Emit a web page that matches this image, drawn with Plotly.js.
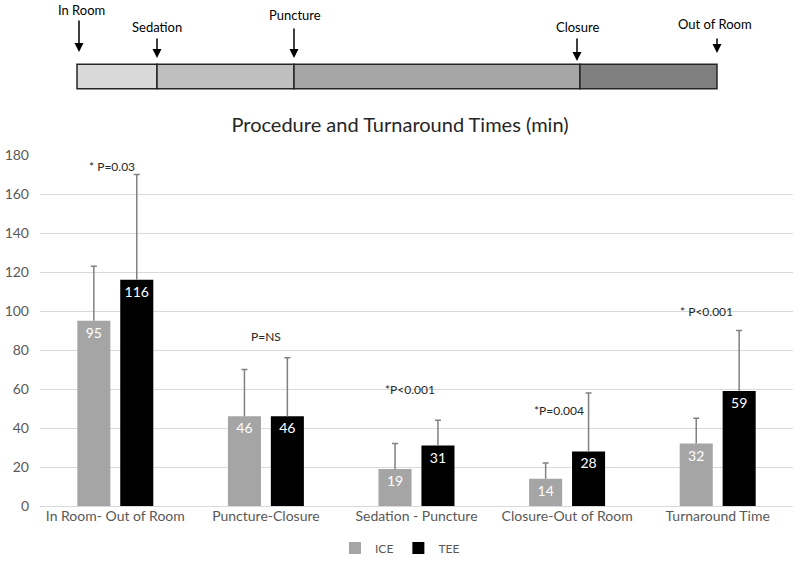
<!DOCTYPE html>
<html>
<head>
<meta charset="utf-8">
<script src="https://cdn.plot.ly/plotly-3.0.1.min.js"></script>
<style>html,body{margin:0;padding:0;background:#fff;}#chart{width:800px;height:563px;}</style>
</head>
<body>
<div id="chart"></div>
<script>
// ---- data ----
var categories = ["In Room- Out of Room", "Puncture-Closure", "Sedation - Puncture", "Closure-Out of Room", "Turnaround Time"];
var iceValues = [95, 46, 19, 14, 32];
var teeValues = [116, 46, 31, 28, 59];
var iceErrors = [28, 24, 13, 8, 13];
var teeErrors = [54, 30, 13, 30, 31];
var pLabels = ["* P=0.03", "P=NS", "*P<0.001", "*P=0.004", "* P<0.001"];
var pLabelY = [174, 87, 60, 49, 99.5];

// timeline (schematic, relative units)
var eventNames = ["In Room", "Sedation", "Puncture", "Closure", "Out of Room"];
var segmentLengths = [80, 137, 286, 137];
var segmentColors = ["#d9d9d9", "#bfbfbf", "#a6a6a6", "#808080"];

// ---- derived ----
var segmentStarts = [];
var acc = 0;
for (var i = 0; i < segmentLengths.length; i++) { segmentStarts.push(acc); acc += segmentLengths[i]; }
var eventPos = segmentStarts.concat([acc]);
function zeros(a) { return a.map(function(){ return 0; }); }
function addArr(a, b) { return a.map(function(v, i){ return v + b[i]; }); }

var FONT = "Lato, 'Open Sans', sans-serif";
var ERRCOL = "#808080";

var traces = [
  {
    type: "bar", name: "ICE", x: categories, y: iceValues, offsetgroup: "ice",
    marker: {color: "#a5a5a5"},
    text: iceValues.map(String), textposition: "inside", insidetextanchor: "end",
    textfont: {color: "#ffffff", size: 14, family: FONT},
    error_y: {type: "data", symmetric: false, array: iceErrors, arrayminus: zeros(iceValues),
              color: ERRCOL, thickness: 1.5, width: 0},
    hoverinfo: "skip", cliponaxis: false
  },
  {
    type: "bar", name: "TEE", x: categories, y: teeValues, offsetgroup: "tee",
    marker: {color: "#000000"},
    text: teeValues.map(String), textposition: "inside", insidetextanchor: "end",
    textfont: {color: "#ffffff", size: 14, family: FONT},
    error_y: {type: "data", symmetric: false, array: teeErrors, arrayminus: zeros(teeValues),
              color: ERRCOL, thickness: 1.5, width: 0},
    hoverinfo: "skip", cliponaxis: false
  },
  // invisible bars carrying only the top caps of the error bars
  {
    type: "bar", name: "ICE cap", x: categories, y: addArr(iceValues, iceErrors), offsetgroup: "ice",
    marker: {color: "rgba(0,0,0,0)"}, showlegend: false, hoverinfo: "skip", cliponaxis: false,
    error_y: {type: "data", symmetric: false, array: zeros(iceValues), arrayminus: zeros(iceValues),
              color: ERRCOL, thickness: 1.5, width: 3}
  },
  {
    type: "bar", name: "TEE cap", x: categories, y: addArr(teeValues, teeErrors), offsetgroup: "tee",
    marker: {color: "rgba(0,0,0,0)"}, showlegend: false, hoverinfo: "skip", cliponaxis: false,
    error_y: {type: "data", symmetric: false, array: zeros(teeValues), arrayminus: zeros(teeValues),
              color: ERRCOL, thickness: 1.5, width: 3}
  },
  {
    type: "bar", orientation: "h", xaxis: "x2", yaxis: "y2",
    x: segmentLengths, base: segmentStarts, y: segmentLengths.map(function(){return 23.5;}),
    width: 24.5,
    marker: {color: segmentColors, line: {color: "#262626", width: 1.5}},
    showlegend: false, hoverinfo: "skip"
  }
];

var annotations = [];
// p-value annotations
var pShift = [-3, 0, -7, -8, -11];
for (var k = 0; k < categories.length; k++) {
  annotations.push({x: categories[k], y: pLabelY[k], xref: "x", yref: "y", text: pLabels[k], showarrow: false,
    xshift: pShift[k], font: {size: 12, color: "#262626", family: FONT}, xanchor: "center", yanchor: "middle"});
}
// timeline arrows and labels
var arrowTipY = [48, 42, 42, 39, 47];
var arrowLen = [33, 21, 31, 24, 16];
var arrowShift = [2, 0, 0, -3, 0];
var labelY = [90, 73, 85, 73, 76];
var labelShift = [4, 0, 1, -3, -2];
for (var e = 0; e < eventNames.length; e++) {
  annotations.push({x: eventPos[e], y: arrowTipY[e], xref: "x2", yref: "y2", text: "", showarrow: true,
    ax: 0, ay: -arrowLen[e], xshift: arrowShift[e], arrowhead: 2, arrowsize: 1.2, arrowwidth: 1.5, arrowcolor: "#000000"});
  annotations.push({x: eventPos[e], y: labelY[e], xref: "x2", yref: "y2", text: eventNames[e], showarrow: false,
    xshift: labelShift[e], font: {size: 13, color: "#000000", family: FONT}, xanchor: "center", yanchor: "middle"});
}

var layout = {
  width: 800, height: 563,
  margin: {l: 40, r: 7, t: 0, b: 57},
  paper_bgcolor: "#ffffff", plot_bgcolor: "#ffffff",
  font: {family: FONT, color: "#595959"},
  title: {text: "Procedure and Turnaround Times (min)", x: 0.5, xref: "container", xanchor: "center",
          y: 1 - 125/563, yref: "container", yanchor: "middle",
          font: {size: 20, color: "#262626", family: FONT}},
  barmode: "group", bargap: 0.43, bargroupgap: 0.23,
  xaxis: {type: "category", domain: [0, 1], anchor: "y", showgrid: false, showline: false, ticks: "",
          tickfont: {size: 14, color: "#595959", family: FONT}},
  yaxis: {domain: [0, 351/506], anchor: "x", range: [0, 180], dtick: 20, showgrid: true, gridcolor: "#d9d9d9", gridwidth: 1,
          zeroline: true, zerolinecolor: "#d9d9d9", zerolinewidth: 1, showline: false, ticks: "",
          ticklabelstandoff: 10, tickfont: {size: 14, color: "#595959", family: FONT}},
  xaxis2: {domain: [0, 1], anchor: "y2", range: [-37, 716], visible: false, fixedrange: true},
  yaxis2: {domain: [406/506, 1], anchor: "x2", range: [0, 100], visible: false, fixedrange: true},
  legend: {orientation: "h", xref: "container", yref: "container", x: 0.5, y: 1 - 548/563, xanchor: "center", yanchor: "middle",
           font: {size: 12, color: "#595959", family: FONT}, itemwidth: 30, traceorder: "normal"},
  annotations: annotations,
  showlegend: true
};

Plotly.newPlot("chart", traces, layout, {displayModeBar: false, staticPlot: true});
</script>
</body>
</html>
